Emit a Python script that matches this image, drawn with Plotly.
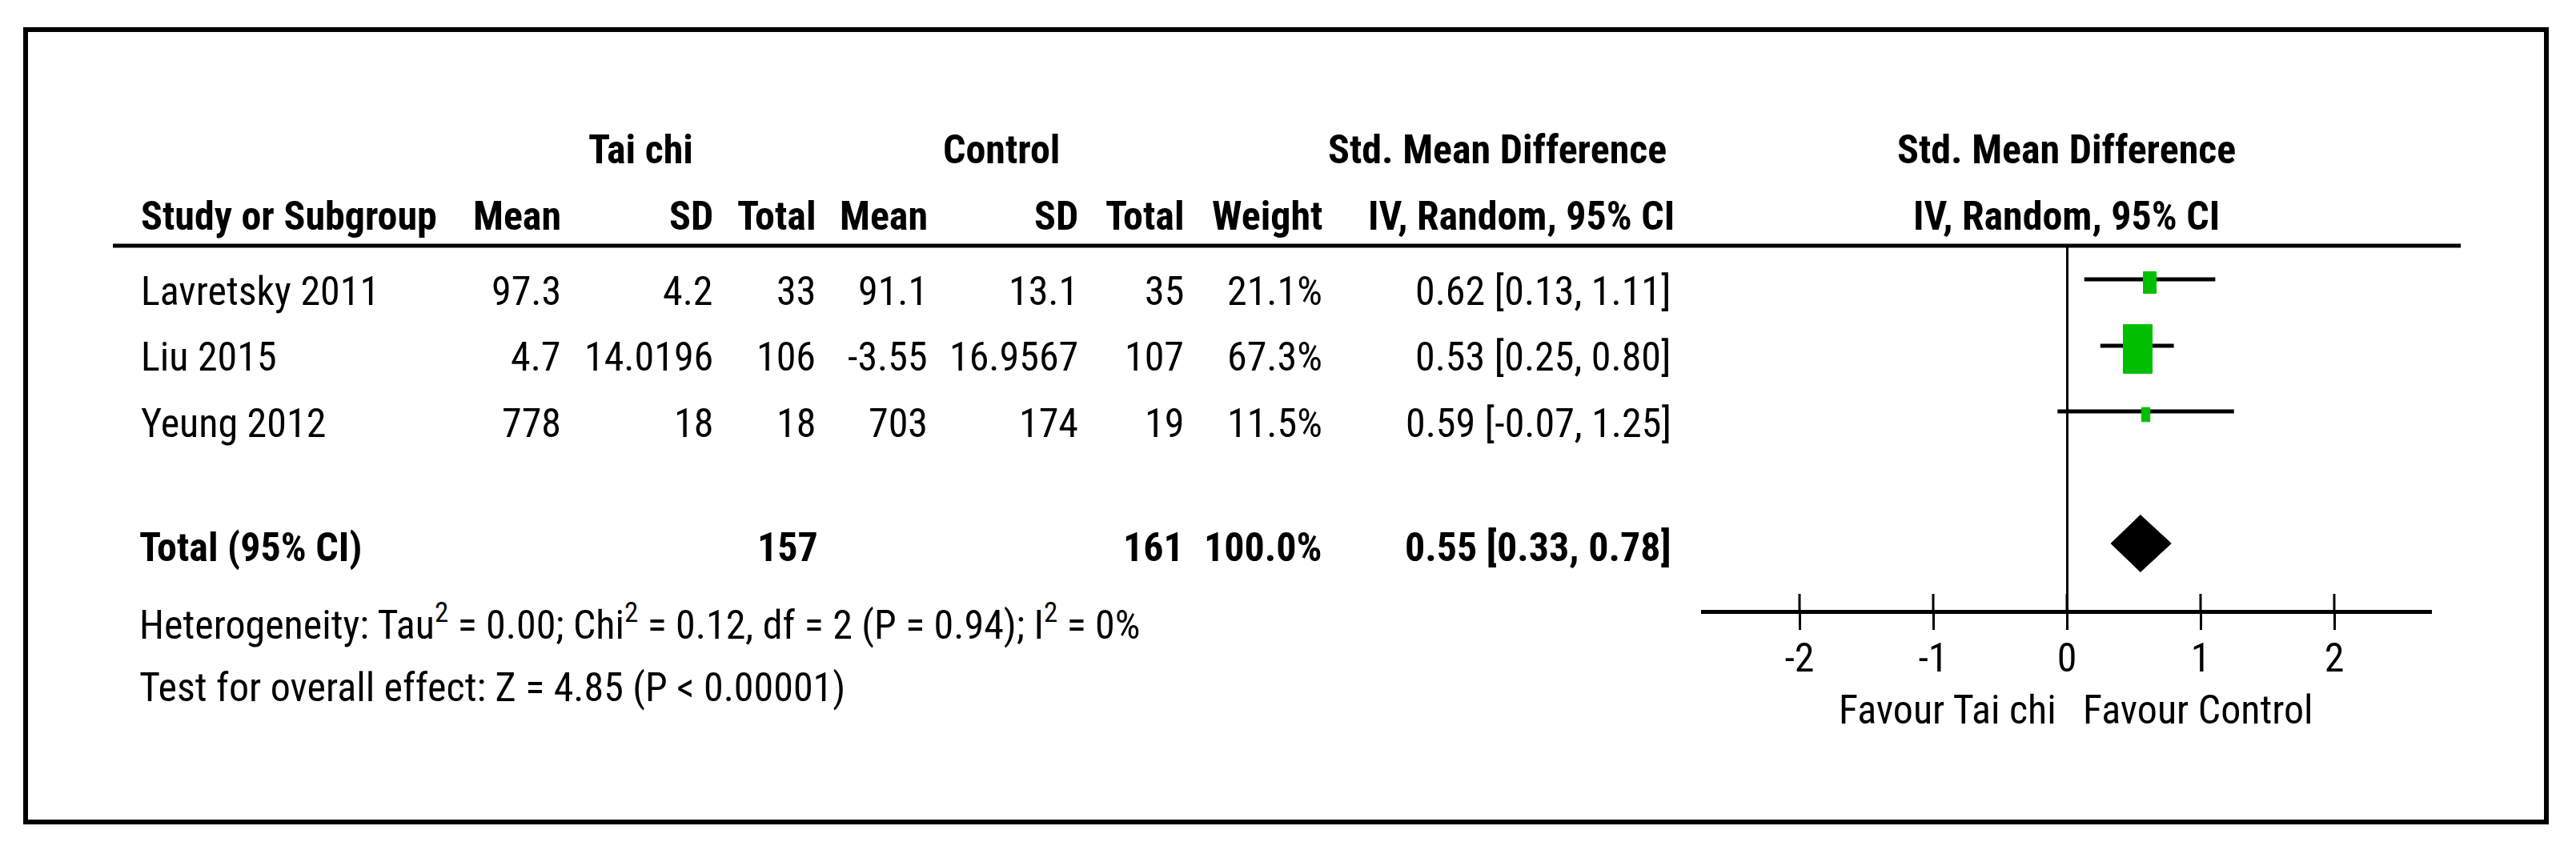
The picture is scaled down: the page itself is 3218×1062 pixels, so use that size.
import plotly.graph_objects as go

# ---------------- data ----------------
studies = ["Lavretsky 2011", "Liu 2015", "Yeung 2012"]
tc_mean = [97.3, 4.7, 778]
tc_sd = [4.2, 14.0196, 18]
tc_n = [33, 106, 18]
ct_mean = [91.1, -3.55, 703]
ct_sd = [13.1, 16.9567, 174]
ct_n = [35, 107, 19]
weights = [21.1, 67.3, 11.5]
smd = [0.62, 0.53, 0.59]
ci_lo = [0.13, 0.25, -0.07]
ci_hi = [1.11, 0.80, 1.25]

total_label = "Total (95% CI)"
total_tc_n = 157
total_ct_n = 161
total_weight = 100.0
total_smd = 0.55
total_lo = 0.33
total_hi = 0.78

heterogeneity = "Heterogeneity: Tau<sup>2</sup> = 0.00; Chi<sup>2</sup> = 0.12, df = 2 (P = 0.94); I<sup>2</sup> = 0%"
overall = "Test for overall effect: Z = 4.85 (P < 0.00001)"

tick_vals = [-2, -1, 0, 1, 2]
tick_text = ["-2", "-1", "0", "1", "2"]
favour_left = "Favour Tai chi"
favour_right = "Favour Control"

# ---------------- layout geometry (pixels) ----------------
W, H = 3218, 1062
PX_PER_UNIT = 167.0
ZERO_PX = 2582
AX_L, AX_R = 2125, 3038
PLOT_TOP, PLOT_BOT = 307, 762
row_mark_y = [349, 432, 514]
row_base_y = [380, 462, 545]
total_mark_y = 679
total_base_y = 700

FONT = ("Noto Sans ExtraCondensed, Noto Sans Condensed, Roboto Condensed, "
        "DejaVu Sans Condensed, Liberation Sans Narrow, Liberation Sans, sans-serif")
S = 50
GREEN = "#00BF00"


def px_x(p):
    return p / W


def px_y(p):
    return 1 - p / H


annotations = []


def txt(s, x, base, anchor="right", bold=False, size=S):
    if bold:
        s = f"<b>{s}</b>"
    annotations.append(dict(
        text=s, x=px_x(x), y=px_y(base - 0.32 * size), xref="paper", yref="paper",
        xanchor=anchor, yanchor="middle", showarrow=False,
        font=dict(family=FONT, size=size, color="black")))


def fmt(v):
    return f"{v:g}"


# headers
txt("Tai chi", 800, 203, anchor="center", bold=True)
txt("Control", 1251, 203, anchor="center", bold=True)
txt("Std. Mean Difference", 1871, 203, anchor="center", bold=True)
txt("Std. Mean Difference", 2581, 203, anchor="center", bold=True)
txt("Study or Subgroup", 174, 286, anchor="left", bold=True)
col_right = [703, 893, 1021, 1161, 1349, 1481, 1654]
for name, xr in zip(["Mean", "SD", "Total", "Mean", "SD", "Total", "Weight"], col_right):
    txt(name, xr, 286, bold=True)
txt("IV, Random, 95% CI", 1900, 286, anchor="center", bold=True)
txt("IV, Random, 95% CI", 2581, 286, anchor="center", bold=True)

# study rows
for i, st in enumerate(studies):
    b = row_base_y[i]
    txt(st, 174, b, anchor="left")
    vals = [fmt(tc_mean[i]), fmt(tc_sd[i]), str(tc_n[i]), fmt(ct_mean[i]), fmt(ct_sd[i]),
            str(ct_n[i]), f"{weights[i]:.1f}%"]
    for v, xr in zip(vals, col_right):
        txt(v, xr, b)
    txt(f"{smd[i]:.2f} [{ci_lo[i]:.2f}, {ci_hi[i]:.2f}]", 2090, b)

# total row
txt(total_label, 172, total_base_y, anchor="left", bold=True)
txt(str(total_tc_n), 1024, total_base_y, bold=True)
txt(str(total_ct_n), 1481, total_base_y, bold=True)
txt(f"{total_weight:.1f}%", 1654, total_base_y, bold=True)
txt(f"{total_smd:.2f} [{total_lo:.2f}, {total_hi:.2f}]", 2090, total_base_y, bold=True)

txt(heterogeneity, 172, 793, anchor="left")
txt(overall, 172, 875, anchor="left")

txt(favour_left, 2571, 903, anchor="right")
txt(favour_right, 2600, 903, anchor="left")

# ---------------- traces ----------------
fig = go.Figure()

# CI lines
cx, cy = [], []
for i in range(len(studies)):
    cx += [ci_lo[i], ci_hi[i], None]
    cy += [row_mark_y[i], row_mark_y[i], None]
fig.add_trace(go.Scatter(x=cx, y=cy, mode="lines", line=dict(color="black", width=5),
                         hoverinfo="skip", showlegend=False))

# weight boxes (area grows with weight)
for i in range(len(studies)):
    k = (weights[i] / weights[0]) ** 0.7
    hw = 8 * k / PX_PER_UNIT
    hh = 13.5 * k
    yc = row_mark_y[i] + 4
    fig.add_trace(go.Scatter(
        x=[smd[i] - hw, smd[i] + hw, smd[i] + hw, smd[i] - hw, smd[i] - hw],
        y=[yc - hh, yc - hh, yc + hh, yc + hh, yc - hh],
        mode="lines", fill="toself", fillcolor=GREEN, line=dict(color=GREEN, width=1),
        hoverinfo="skip", showlegend=False))

# diamond
fig.add_trace(go.Scatter(
    x=[total_lo, total_smd, total_hi, total_smd, total_lo],
    y=[total_mark_y, total_mark_y - 35.5, total_mark_y, total_mark_y + 35.5, total_mark_y],
    mode="lines", fill="toself", fillcolor="black", line=dict(color="black", width=1),
    hoverinfo="skip", showlegend=False))

# upper half of the crossing ticks
tx, ty = [], []
for t in tick_vals:
    tx += [t, t, None]
    ty += [PLOT_BOT - 20, PLOT_BOT, None]
fig.add_trace(go.Scatter(x=tx, y=ty, mode="lines", line=dict(color="black", width=3),
                         hoverinfo="skip", showlegend=False))

shapes = [
    dict(type="rect", xref="paper", yref="paper", x0=px_x(32), x1=px_x(3181),
         y0=px_y(1027), y1=px_y(37), line=dict(color="black", width=6)),
    dict(type="line", xref="paper", yref="paper", x0=px_x(141), x1=px_x(3074),
         y0=px_y(PLOT_TOP), y1=px_y(PLOT_TOP), line=dict(color="black", width=5)),
]

fig.update_layout(
    width=W, height=H, autosize=False,
    margin=dict(l=0, r=0, t=0, b=0, pad=0),
    paper_bgcolor="white", plot_bgcolor="white",
    showlegend=False,
    annotations=annotations, shapes=shapes,
    xaxis=dict(
        domain=[px_x(AX_L), px_x(AX_R)],
        range=[(AX_L - ZERO_PX) / PX_PER_UNIT, (AX_R - ZERO_PX) / PX_PER_UNIT],
        showline=True, linewidth=5, linecolor="black",
        ticks="outside", ticklen=20, tickwidth=3, tickcolor="black",
        tickvals=tick_vals, ticktext=tick_text,
        tickfont=dict(family=FONT, size=S, color="black"),
        ticklabelstandoff=-8,
        zeroline=True, zerolinewidth=3, zerolinecolor="black",
        showgrid=False, fixedrange=True,
    ),
    yaxis=dict(
        domain=[1 - PLOT_BOT / H, 1 - PLOT_TOP / H],
        range=[PLOT_BOT, PLOT_TOP],
        visible=False, showgrid=False, zeroline=False, fixedrange=True,
    ),
)

fig.write_html("out.html", post_script="document.body.style.margin='0';",
               config={"displayModeBar": False})
